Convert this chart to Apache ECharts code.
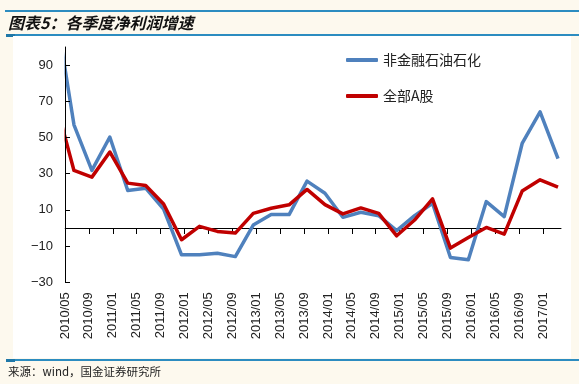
<!DOCTYPE html>
<html>
<head>
<meta charset="utf-8">
<script src="https://cdn.jsdelivr.net/npm/echarts@6/dist/echarts.min.js"></script>
<style>
html,body{margin:0;padding:0;background:#FDF9EE;}
#chart{width:579px;height:384px;}
</style>
</head>
<body>
<div id="chart"></div>
<script>
// Quarter-end periods (YYYY/MM)
var quarters = ['2010/03','2010/06','2010/09','2010/12','2011/03','2011/06','2011/09','2011/12',
  '2012/03','2012/06','2012/09','2012/12','2013/03','2013/06','2013/09','2013/12',
  '2014/03','2014/06','2014/09','2014/12','2015/03','2015/06','2015/09','2015/12',
  '2016/03','2016/06','2016/09','2016/12','2017/03'];
// Net profit growth (%)
var nonFinPetro = [119, 57, 31.8, 50.3, 20.7, 22, 10.5, -14.8, -14.8, -13.9, -15.8, 1.6, 7.4, 7.4,
  25.9, 19.2, 5.9, 8.7, 6.8, -1.5, 6.8, 13.7, -16.3, -17.6, 14.6, 6.3, 46.7, 64.2, 38.3];
var allA = [68.8, 31.8, 28.1, 42, 24.8, 23.5, 13.3, -6.5, 0.9, -1.9, -2.8, 8.1, 10.9, 12.8,
  21.3, 12.9, 7.8, 11.1, 8.1, -4.3, 4.4, 16.1, -11.1, -5.2, 0.3, -3.4, 20.4, 26.6, 22.6];
var seriesNames = ['非金融石油石化', '全部A股'];
// Axis tick labels
var xTickLabels = ['2010/05','2010/09','2011/01','2011/05','2011/09','2012/01','2012/05','2012/09',
  '2013/01','2013/05','2013/09','2014/01','2014/05','2014/09','2015/01','2015/05','2015/09',
  '2016/01','2016/05','2016/09','2017/01'];
var yTicks = [-30, -10, 10, 30, 50, 70, 90];

var baseYear = 2010, baseMonth = 5;
function monthIndex(s) {
  var p = s.split('/');
  return (parseInt(p[0], 10) - baseYear) * 12 + (parseInt(p[1], 10) - baseMonth);
}
function monthLabel(v) {
  var t = baseYear * 12 + (baseMonth - 1) + Math.round(v);
  var y = Math.floor(t / 12), m = t % 12 + 1;
  return y + '/' + (m < 10 ? '0' + m : m);
}
var xTickVals = xTickLabels.map(monthIndex);
function pairs(vals) {
  return quarters.map(function (q, i) { return [monthIndex(q) + 0.5, vals[i]]; });
}

var chart = echarts.init(document.getElementById('chart'), null, {renderer: 'canvas'});
var latin = '"Liberation Sans", Arial, sans-serif';
var cjk = '"Noto Sans CJK SC", sans-serif';
chart.setOption({
  backgroundColor: '#FDF9EE',
  animation: false,
  grid: {left: 65, right: 18, top: 47, bottom: 101.7},
  graphic: [
    {type: 'rect', z: -10, shape: {x: 13, y: 36, width: 558, height: 322}, style: {fill: '#FFFFFF'}},
    // white mask left of the plot area so lines stop exactly at the y axis
    {type: 'rect', z: 5, shape: {x: 13, y: 36, width: 51.5, height: 250}, style: {fill: '#FFFFFF'}},
    {type: 'rect', shape: {x: 5, y: 10, width: 574, height: 2}, style: {fill: '#2C8CC0'}},
    {type: 'rect', shape: {x: 6, y: 34, width: 573, height: 2}, style: {fill: '#2C8CC0'}},
    {type: 'rect', shape: {x: 6, y: 34, width: 9, height: 3}, style: {fill: '#1F78A8'}},
    {type: 'rect', shape: {x: 6, y: 359, width: 573, height: 2}, style: {fill: '#2C8CC0'}},
    {type: 'rect', shape: {x: 6, y: 359, width: 9, height: 3}, style: {fill: '#1F78A8'}},
    {type: 'text', x: 8, y: 23, style: {text: '图表5：各季度净利润增速', fill: '#111', font: 'italic bold 16px ' + cjk, textVerticalAlign: 'middle'}},
    {type: 'text', x: 8, y: 372, style: {text: '来源：wind，国金证券研究所', fill: '#222', font: '11.5px ' + cjk, textVerticalAlign: 'middle'}}
  ],
  legend: {
    orient: 'vertical', left: 341, top: 47, itemGap: 20,
    itemWidth: 32, itemHeight: 4, icon: 'roundRect',
    textStyle: {fontFamily: cjk, fontSize: 14, color: '#222', lineHeight: 16},
    data: seriesNames
  },
  xAxis: [
    {
      type: 'value', position: 'bottom', min: 0, max: 83,
      axisLine: {show: true, onZero: true, lineStyle: {color: '#000', width: 1}},
      axisTick: {show: true, inside: false, length: 6, lineStyle: {color: '#000'}, customValues: xTickVals},
      axisLabel: {show: false},
      splitLine: {show: false}
    },
    {
      type: 'value', position: 'bottom', min: 0, max: 83,
      axisLine: {show: false, onZero: false},
      axisTick: {show: false},
      axisLabel: {show: true, rotate: 90, margin: 10, fontFamily: latin, fontSize: 13, color: '#222',
        customValues: xTickVals, formatter: function (v) { return monthLabel(v); }},
      splitLine: {show: false}
    }
  ],
  yAxis: {
    type: 'value', min: -30, max: 100, z: 10,
    axisLine: {show: true, onZero: false, lineStyle: {color: '#000', width: 1}},
    axisTick: {show: true, inside: true, length: 5, lineStyle: {color: '#000'}, customValues: yTicks},
    axisLabel: {fontFamily: latin, fontSize: 13, color: '#222', margin: 12, customValues: yTicks,
      formatter: function (v) { return String(v).replace('-', '\u2212'); }},
    splitLine: {show: false}
  },
  series: [
    {name: seriesNames[0], type: 'line', xAxisIndex: 0, data: pairs(nonFinPetro), symbol: 'none', clip: true,
      color: '#4F81BD', lineStyle: {width: 3.5, color: '#4F81BD', join: 'round'}, z: 2},
    {name: seriesNames[1], type: 'line', xAxisIndex: 0, data: pairs(allA), symbol: 'none', clip: true,
      color: '#C00000', lineStyle: {width: 3.5, color: '#C00000', join: 'round'}, z: 3}
  ]
});
</script>
</body>
</html>
